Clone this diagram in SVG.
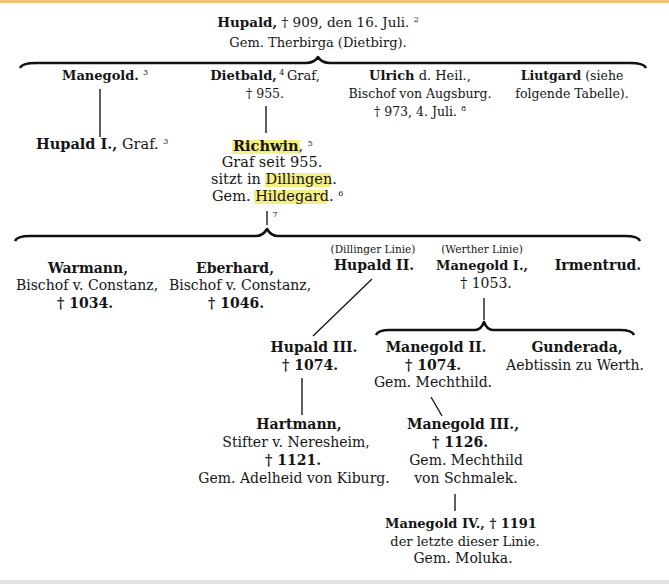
<svg xmlns="http://www.w3.org/2000/svg" width="669" height="584" viewBox="0 0 669 584">
<style>
text{font-family:"DejaVu Serif","Liberation Serif",serif;font-size:14px;fill:#151515;text-anchor:middle}
.b{font-weight:bold}
.t{font-size:13.5px}
.g{font-size:13px}
.r{font-size:12.5px}
.m{font-size:14.5px}
.s{font-size:10.5px}
.sup{font-size:8px;font-weight:normal}
.st{text-anchor:start}
.en{text-anchor:end}
.hl{fill:#f4ef84}
.ln{fill:none;stroke:#1a1a1a;stroke-width:1.4}
.br{fill:none;stroke:#111;stroke-width:2.6;stroke-linejoin:round}
</style>
<rect width="669" height="584" fill="#fff"/>
<rect x="0" y="0" width="669" height="3" fill="#f0c37c"/>
<rect x="0" y="580" width="669" height="4" fill="#e2e2e2"/>

<g id="connectors">
<path class="br" d="M20,68 Q22,63 36,63 L306,63 Q314,63 318,57 Q322,63 330,63 L630,63 Q644,63 646,68"/>
<line class="ln" x1="100" y1="89" x2="100" y2="137"/>
<line class="ln" x1="266" y1="106" x2="266" y2="133"/>
<line class="ln" x1="267" y1="211" x2="267" y2="225"/>
<path class="br" d="M15,241 Q17,236 30,236 L256,236 Q263,236 267,229 Q271,236 278,236 L625,236 Q638,236 640,241"/>
<line class="ln" x1="372" y1="279" x2="313" y2="336"/>
<line class="ln" x1="484" y1="298" x2="484" y2="320"/>
<path class="br" d="M376,335 Q378,330 390,330 L475,330 Q481,330 484,322 Q487,330 493,330 L620,330 Q632,330 634,335"/>
<line class="ln" x1="302" y1="378" x2="302" y2="415"/>
<line class="ln" x1="431" y1="397" x2="442" y2="416"/>
<line class="ln" x1="455" y1="494" x2="455" y2="511"/>
</g>

<g id="hupald">
<text class="t" x="318" y="27"><tspan class="b">Hupald,</tspan> † 909, den 16. Juli. <tspan class="sup" dy="-5">2</tspan></text>
<text class="g" x="318" y="47">Gem. Therbirga (Dietbirg).</text>
</g>

<g id="manegold">
<text class="g st" x="62" y="80"><tspan class="b">Manegold.</tspan> <tspan class="sup" dy="-5">3</tspan></text>
</g>
<g id="dietbald">
<text class="g" x="265" y="80"><tspan class="b">Dietbald,</tspan><tspan class="sup" dy="-5"> 4 </tspan><tspan dy="5">Graf,</tspan></text>
<text class="r" x="265" y="98">† 955.</text>
</g>
<g id="ulrich">
<text class="g" x="420" y="80"><tspan class="b">Ulrich</tspan> d. Heil.,</text>
<text class="r" x="420" y="98">Bischof von Augsburg.</text>
<text class="r" x="420" y="116">† 973, 4. Juli. <tspan class="sup" dy="-5">8</tspan></text>
</g>
<g id="liutgard">
<text class="r" x="572" y="80"><tspan class="b">Liutgard</tspan> (siehe</text>
<text class="r" x="572" y="98">folgende Tabelle).</text>
</g>

<g id="hupald1">
<text class="m st" x="36" y="149"><tspan class="b">Hupald I.,</tspan> Graf. <tspan class="sup" dy="-5">3</tspan></text>
</g>
<g id="richwin">
<rect class="hl" x="232" y="140" width="68" height="14"/>
<rect class="hl" x="265" y="173" width="66" height="14"/>
<rect class="hl" x="254" y="190" width="73" height="14"/>
<text class="m st" x="233" y="151"><tspan class="b">Richwin</tspan>, <tspan class="sup" dy="-5">5</tspan></text>
<text class="m" x="272" y="167">Graf seit 955.</text>
<text class="m st" x="211" y="184">sitzt in Dillingen.</text>
<text class="m st" x="212" y="201">Gem. Hildegard. <tspan class="sup" dy="-5">6</tspan></text>
<text class="sup" x="275" y="217">7</text>
</g>

<g id="warmann">
<text class="b" x="88" y="273">Warmann,</text>
<text x="87" y="290">Bischof v. Constanz,</text>
<text class="b" x="85" y="308">† 1034.</text>
</g>
<g id="eberhard">
<text class="b" x="235" y="273">Eberhard,</text>
<text x="240" y="290">Bischof v. Constanz,</text>
<text class="b" x="236" y="308">† 1046.</text>
</g>
<g id="hupald2">
<text class="s" x="373" y="253">(Dillinger Linie)</text>
<text class="b" x="374" y="270">Hupald II.</text>
</g>
<g id="manegold1">
<text class="s" x="482" y="253">(Werther Linie)</text>
<text class="b g" x="482" y="270">Manegold I.,</text>
<text x="486" y="288">† 1053.</text>
</g>
<g id="irmentrud">
<text class="b" x="598" y="270">Irmentrud.</text>
</g>

<g id="hupald3">
<text class="b" x="314" y="352">Hupald III.</text>
<text class="b" x="310" y="370">† 1074.</text>
</g>
<g id="manegold2">
<text class="b" x="436" y="352">Manegold II.</text>
<text class="b" x="433" y="370">† 1074.</text>
<text x="433" y="387">Gem. Mechthild.</text>
</g>
<g id="gunderada">
<text class="b" x="577" y="352">Gunderada,</text>
<text x="575" y="370">Aebtissin zu Werth.</text>
</g>

<g id="hartmann">
<text class="b" x="299" y="429">Hartmann,</text>
<text x="296" y="447">Stifter v. Neresheim,</text>
<text class="b" x="293" y="465">† 1121.</text>
<text x="294" y="483">Gem. Adelheid von Kiburg.</text>
</g>
<g id="manegold3">
<text class="b" x="463" y="429">Manegold III.,</text>
<text class="b" x="460" y="447">† 1126.</text>
<text x="466" y="465">Gem. Mechthild</text>
<text x="466" y="483">von Schmalek.</text>
</g>
<g id="manegold4">
<text class="b g" x="461" y="528">Manegold IV., † 1191</text>
<text class="g" x="465" y="546">der letzte dieser Linie.</text>
<text x="463" y="563">Gem. Moluka.</text>
</g>
</svg>
